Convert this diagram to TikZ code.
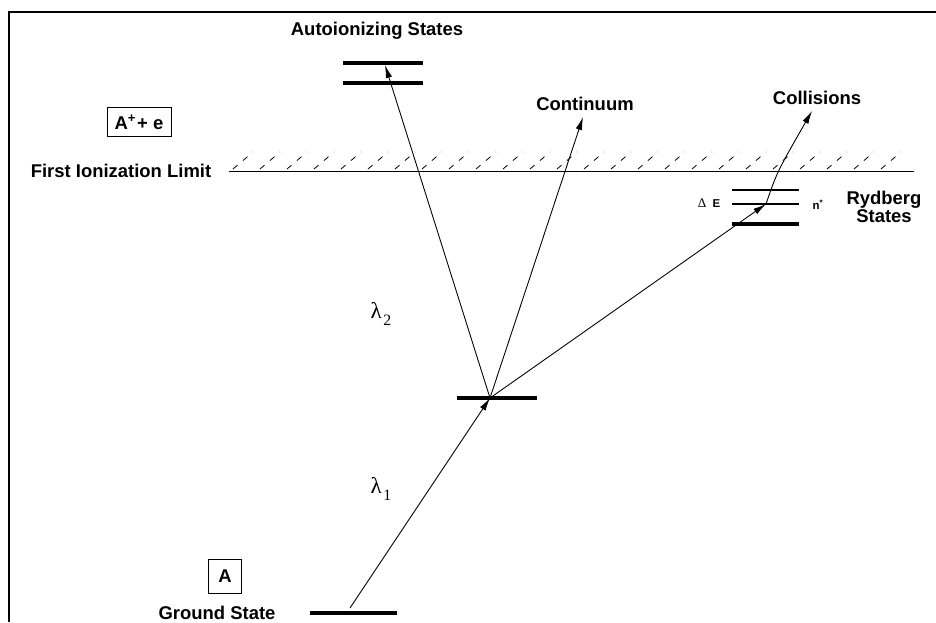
\documentclass[tikz,border=0pt]{standalone}
\usepackage{fontspec}
\setmainfont{Liberation Sans}
\newfontfamily\symbfont{Liberation Serif}
\usetikzlibrary{arrows.meta}

\begin{document}
\begin{tikzpicture}[x=0.02cm, y=-0.02cm, every node/.style={align=center, font=\fontsize{10.5}{10.5}\selectfont\bfseries},
  level/.style={line width=2pt},
  sublevel/.style={line width=0.6pt},
  arr/.style={-{Latex[length=2.6mm, width=1.3mm]}, line width=0.5pt},
  smalltxt/.style={font=\fontsize{6.5}{7}\selectfont\bfseries},
  lambda/.style={font=\symbfont\fontsize{13}{14}\selectfont}]
  \useasboundingbox (0,0) rectangle (936,622);

  % Frame
  \draw[line width=1.7pt] (9,622) -- (9,12) -- (936,12);

  % Ionization limit with hatching
  \draw[line width=0.5pt] (229,171) -- (914,171);
  \foreach \x in {233,260,...,890}
    \draw[line width=0.45pt, dash pattern=on 0.12cm off 0.14cm] (\x,169) -- ++(20,-17);
  \node (limit) at (121,171) {First Ionization Limit};
  \node[draw, line width=0.5pt, minimum width=1.28cm, minimum height=0.58cm, inner sep=1pt] (ion) at (139,122) {A\textsuperscript{+}\kern0.5pt+ e};

  % Levels
  \draw[level] (343,63) -- (423,63);
  \draw[level] (343,83) -- (423,83);
  \draw[level] (457,398) -- (537,398);
  \draw[level] (310,613) -- (397,613);
  \draw[sublevel] (732,190) -- (799,190);
  \draw[sublevel] (732,204) -- (799,204);
  \draw[level] (732,224) -- (799,224);

  % Labels
  \node (auto) at (377,31) {Autoionizing States};
  \node (cont) at (585,104) {Continuum};
  \node (coll) at (817,98) {Collisions};
  \node (ryd) at (884,207) {Rydberg\\States};
  \node[smalltxt] (dE) at (709,203) {{\symbfont\mdseries\fontsize{7.5}{8}\selectfont Δ}\ \ E};
  \node[smalltxt] (nstar) at (818,205) {n\textsuperscript{*}};
  \node[lambda] (lam2) at (381,314) {λ\kern1pt\raisebox{-0.6ex}{\fontsize{9}{10}\selectfont 2}};
  \node[lambda] (lam1) at (381,489) {λ\kern1pt\raisebox{-0.6ex}{\fontsize{9}{10}\selectfont 1}};
  \node[draw, line width=0.5pt, minimum width=0.66cm, minimum height=0.68cm, inner sep=1pt] (A) at (225,576) {A};
  \node (gs) at (217,613) {Ground State};

  % Transitions
  \coordinate (gnd) at (350,608);
  \coordinate (mid) at (490,398);
  \coordinate (autotip) at (385,65);
  \coordinate (conttip) at (583,117);
  \coordinate (kink) at (766,204);
  \coordinate (colltip) at (812,111);
  \draw[arr] (gnd) -- (mid);
  \draw[arr] (mid) -- (autotip);
  \draw[arr] (mid) -- (conttip);
  \draw[arr] (mid) -- (kink);
  \draw[arr] (kink) .. controls (777,172) .. (colltip);
\end{tikzpicture}
\end{document}
